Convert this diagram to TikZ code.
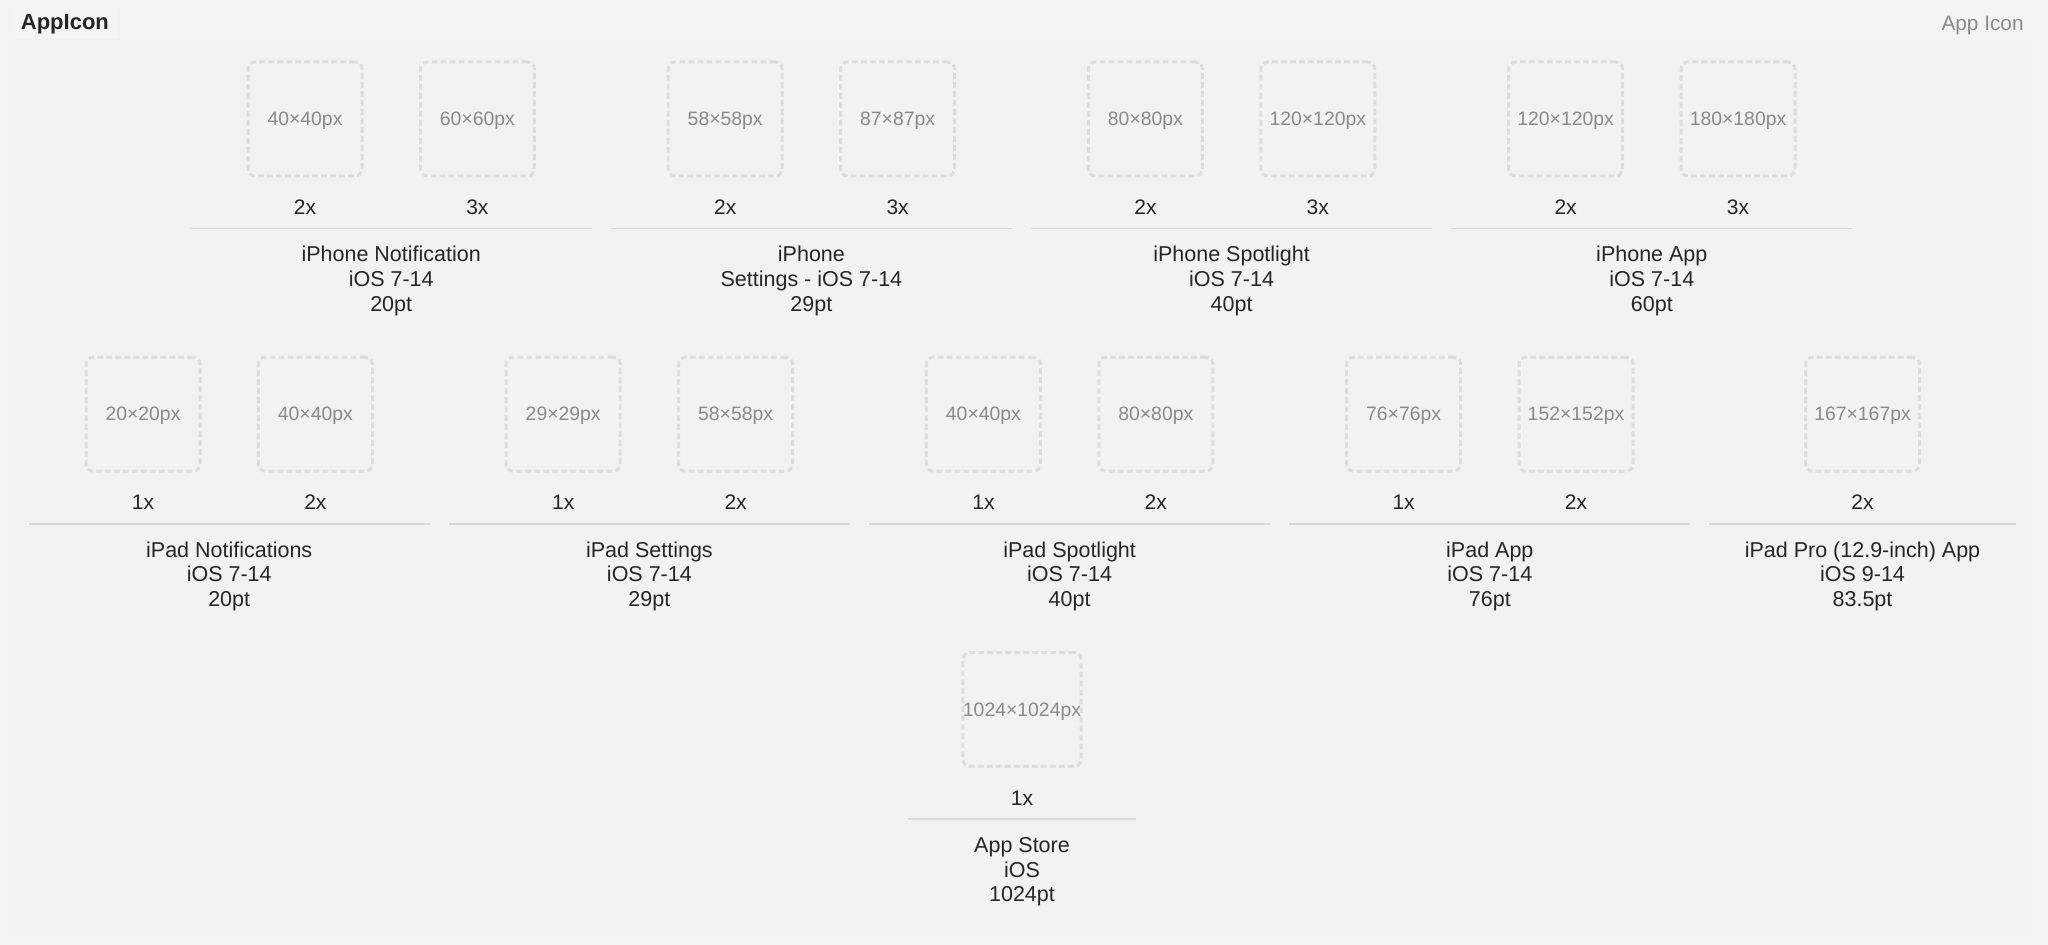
\documentclass[tikz,border=0pt]{standalone}
\usepackage{fontspec}
\setmainfont{Liberation Sans}
\usetikzlibrary{calc}

\definecolor{bggray}{HTML}{F3F3F3}
\definecolor{panelgray}{HTML}{F2F2F2}
\definecolor{tabgray}{HTML}{F5F5F5}
\definecolor{slotgray}{HTML}{DCDCDC}
\definecolor{pxgray}{HTML}{8A8A8A}
\definecolor{rulegray}{HTML}{D8D8D8}
\definecolor{ink}{HTML}{262626}

\begin{document}
\begin{tikzpicture}[x=0.5pt, y=-0.5pt,
        slot/.style={draw=slotgray, line width=1.5pt, dash pattern=on 2.8pt off 1.7pt,
            rounded corners=3.5pt, minimum size=57pt, inner sep=0pt, text depth=0pt,
            text=pxgray, font=\fontsize{9.7}{11}\selectfont},
        scalelabel/.style={anchor=base, inner sep=0pt, text=ink, font=\fontsize{10.5}{12}\selectfont},
        grouptitle/.style={anchor=base, align=center, inner sep=0pt, text=ink,
            font=\fontsize{10.75}{12.4}\selectfont},
        rule/.style={draw=rulegray, line width=0.9pt}]
        % background and panel
        \fill[bggray] (0,0) rectangle (2048,945);
        \fill[panelgray] (12,39) rectangle (2033,935);
        \fill[tabgray] (12,7) rectangle (118,39);
        \useasboundingbox (0,0) rectangle (2048,945);
        \node[anchor=base west, inner sep=0pt, text=ink, font=\fontsize{11}{13}\bfseries] (head) at (20.5,29.3) {AppIcon};
        \node[anchor=base east, inner sep=0pt, text=pxgray, font=\fontsize{10.4}{12}\selectfont] (kind) at (2024,31) {App Icon};
        % two-slot groups
        \foreach \n/\cx/\ry/\pa/\pb/\sa/\sb/\txt in {
            nt/391.2/119/40×40px/60×60px/2x/3x/{iPhone Notification\\iOS 7-14\\20pt},
            st/811.4/119/58×58px/87×87px/2x/3x/{iPhone\\Settings - iOS 7-14\\29pt},
            sp/1231.6/119/80×80px/120×120px/2x/3x/{iPhone Spotlight\\iOS 7-14\\40pt},
            ap/1651.8/119/120×120px/180×180px/2x/3x/{iPhone App\\iOS 7-14\\60pt},
            pnt/229.2/414.2/20×20px/40×40px/1x/2x/{iPad Notifications\\iOS 7-14\\20pt},
            pst/649.4/414.2/29×29px/58×58px/1x/2x/{iPad Settings\\iOS 7-14\\29pt},
            psp/1069.6/414.2/40×40px/80×80px/1x/2x/{iPad Spotlight\\iOS 7-14\\40pt},
            pap/1489.8/414.2/76×76px/152×152px/1x/2x/{iPad App\\iOS 7-14\\76pt}}
        {
            \node[slot] (\n-a) at (\cx-86.2,\ry) {\pa};
            \node[slot] (\n-b) at (\cx+86.2,\ry) {\pb};
            \node[scalelabel] (\n-sa) at (\cx-86.2,\ry+95.8) {\sa};
            \node[scalelabel] (\n-sb) at (\cx+86.2,\ry+95.8) {\sb};
            \coordinate (\n-l) at (\cx-200.5,\ry+109.6);
            \coordinate (\n-r) at (\cx+200.5,\ry+109.6);
            \draw[rule] (\n-l) -- (\n-r);
            \node[grouptitle] (\n-t) at (\cx,\ry+192.4) {\txt};
        }
        % one-slot groups
        \foreach \n/\cx/\ry/\hw/\pa/\sa/\txt in {
            pro/1862.5/414.2/153.5/167×167px/2x/{iPad Pro (12.9-inch) App\\iOS 9-14\\83.5pt},
            store/1022/709.4/114.3/1024×1024px/1x/{App Store\\iOS\\1024pt}}
        {
            \node[slot] (\n-a) at (\cx,\ry) {\pa};
            \node[scalelabel] (\n-sa) at (\cx,\ry+95.8) {\sa};
            \coordinate (\n-l) at (\cx-\hw,\ry+109.6);
            \coordinate (\n-r) at (\cx+\hw,\ry+109.6);
            \draw[rule] (\n-l) -- (\n-r);
            \node[grouptitle] (\n-t) at (\cx,\ry+192.4) {\txt};
        }
    \end{tikzpicture}
\end{document}
